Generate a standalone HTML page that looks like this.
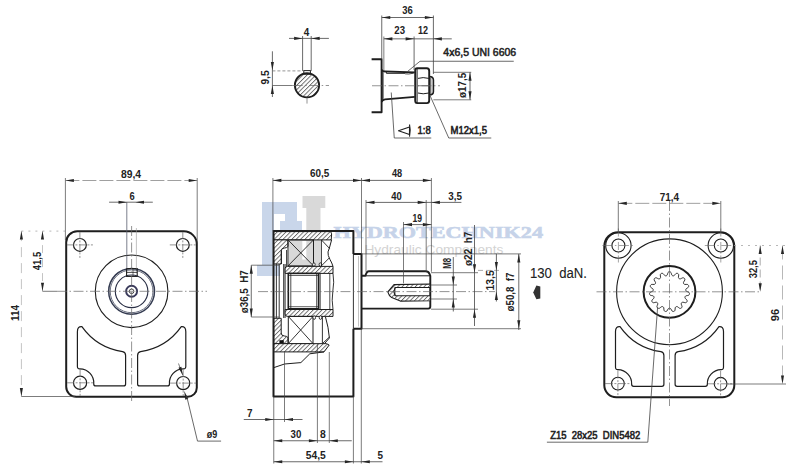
<!DOCTYPE html><html><head><meta charset="utf-8"><style>html,body{margin:0;padding:0;background:#fff;width:800px;height:474px;overflow:hidden}svg{display:block}</style></head><body><svg width="800" height="474" viewBox="0 0 800 474">
<defs>
<pattern id="h" patternUnits="userSpaceOnUse" width="3.1" height="3.1" patternTransform="rotate(45)"><rect width="3.1" height="3.1" fill="#fff"/><line x1="0.5" y1="0" x2="0.5" y2="3.1" stroke="#3a3a3a" stroke-width="0.7"/></pattern>
</defs>
<rect width="800" height="474" fill="#fff"/>
<path d="M262,202 H297 V221 H302 V232 H280 V221 H285 V214 H274 V265 H280 V276 H257 V265 H262 Z" fill="#c9d6ea"/>
<path d="M302.5,196 H325.3 V208 H320.5 V266 H288.8 V241 H302.3 V259.6 H306.3 V208 H302.5 Z" fill="#d9d9d9"/>
<text x="333.4" y="237.9" font-family="Liberation Serif, serif" font-weight="bold" font-size="16.8" textLength="209.6" lengthAdjust="spacingAndGlyphs" fill="#c6d3e9" stroke="#c6d3e9" stroke-width="0.6">HYDROTECHNIK24</text>
<text x="364.4" y="253.8" font-family="Liberation Sans, sans-serif" font-size="12.6" textLength="139" lengthAdjust="spacingAndGlyphs" fill="#d3d3d3">Hydraulic Components</text>
<circle cx="307" cy="85.3" r="12" fill="url(#h)"/>
<circle cx="307.00" cy="85.30" r="12.1" fill="none" stroke="#1e1e1e" stroke-width="1.9" />
<rect x="303.80" y="70.60" width="6.60" height="3.60" fill="none" stroke="#1e1e1e" stroke-width="1.0" />
<line x1="302.60" y1="36.00" x2="302.60" y2="71.00" stroke="#444" stroke-width="0.8" />
<line x1="311.20" y1="36.00" x2="311.20" y2="71.00" stroke="#444" stroke-width="0.8" />
<line x1="289.00" y1="38.40" x2="328.90" y2="38.40" stroke="#444" stroke-width="0.8" />
<polygon points="302.60,38.40 294.10,39.95 294.10,36.85" fill="#262626"/>
<polygon points="311.20,38.40 319.70,36.85 319.70,39.95" fill="#262626"/>
<text xml:space="preserve" style="white-space:pre" transform="translate(306.50,31.90)" x="0" y="3.94" font-family="Liberation Sans, sans-serif" font-size="11" font-weight="bold" text-anchor="middle" fill="#222" textLength="5.5" lengthAdjust="spacingAndGlyphs">4</text>
<line x1="272.40" y1="51.30" x2="272.40" y2="97.00" stroke="#444" stroke-width="0.8" />
<polygon points="272.40,70.60 270.85,62.10 273.95,62.10" fill="#262626"/>
<polygon points="272.40,85.40 273.95,93.90 270.85,93.90" fill="#262626"/>
<text xml:space="preserve" style="white-space:pre" transform="translate(264.80,77.50) rotate(-90)" x="0" y="3.94" font-family="Liberation Sans, sans-serif" font-size="11" font-weight="bold" text-anchor="middle" fill="#222" textLength="14.2" lengthAdjust="spacingAndGlyphs">9,5</text>
<line x1="272.40" y1="70.90" x2="302.00" y2="70.90" stroke="#666" stroke-width="0.7" stroke-dasharray="3 2"/>
<line x1="272.40" y1="85.50" x2="292.70" y2="85.50" stroke="#444" stroke-width="0.7" />
<line x1="292.70" y1="85.50" x2="329.00" y2="85.50" stroke="#666" stroke-width="0.7" stroke-dasharray="10 2.5 1.5 2.5"/>
<line x1="307.00" y1="97.50" x2="307.00" y2="103.60" stroke="#666" stroke-width="0.7" />
<polyline points="371.60,59.20 381.60,59.20 381.60,112.20 371.60,112.20" fill="none" stroke="#1e1e1e" stroke-width="1.9" stroke-linejoin="round" />
<line x1="382.90" y1="70.80" x2="382.90" y2="100.60" stroke="#1e1e1e" stroke-width="1.2" />
<path d="M381.6,69.5 Q382.5,71.5 385,71.5 L414.8,72.3" fill="none" stroke="#1e1e1e" stroke-width="1.8" stroke-linejoin="round" />
<path d="M381.6,102 Q382.5,99.8 385,99.4 L414.8,96.9" fill="none" stroke="#1e1e1e" stroke-width="1.8" stroke-linejoin="round" />
<path d="M386.5,71.2 L386.5,73.5 L405,73.5 M405,73.8 Q408,74.5 413.7,73.2" fill="none" stroke="#1e1e1e" stroke-width="0.8" stroke-linejoin="round" />
<path d="M415.2,70.5 Q415.2,68.3 417.2,68.3 L426.8,68.3 Q429.2,68.3 429.2,71 L429.2,100.5 Q429.2,103.1 426.8,103.1 L417.2,103.1 Q415.2,103.1 415.2,100.5 Z" fill="none" stroke="#1e1e1e" stroke-width="1.9" stroke-linejoin="round" />
<line x1="417.10" y1="68.60" x2="417.10" y2="103.00" stroke="#1e1e1e" stroke-width="1.0" />
<path d="M418,78.4 Q423,76.8 428.8,78.4 M418,93 Q423,94.6 428.8,93" fill="none" stroke="#1e1e1e" stroke-width="1.0" stroke-linejoin="round" />
<line x1="418.00" y1="85.75" x2="428.80" y2="85.75" stroke="#1e1e1e" stroke-width="0.6" />
<path d="M429.2,76.5 Q433.4,76.5 433.4,80 L433.4,91.5 Q433.4,95 429.2,95" fill="none" stroke="#1e1e1e" stroke-width="1.6" stroke-linejoin="round" />
<line x1="430.80" y1="77.50" x2="430.80" y2="94.00" stroke="#1e1e1e" stroke-width="0.8" />
<line x1="372.00" y1="85.75" x2="440.00" y2="85.75" stroke="#666" stroke-width="0.7" stroke-dasharray="10 2.5 1.5 2.5"/>
<line x1="381.75" y1="15.50" x2="381.75" y2="59.00" stroke="#444" stroke-width="0.8" />
<line x1="383.85" y1="36.50" x2="383.85" y2="71.00" stroke="#444" stroke-width="0.7" />
<line x1="433.40" y1="15.50" x2="433.40" y2="74.00" stroke="#444" stroke-width="0.8" />
<line x1="414.10" y1="36.50" x2="414.10" y2="70.00" stroke="#444" stroke-width="0.8" />
<line x1="381.75" y1="17.50" x2="433.40" y2="17.50" stroke="#444" stroke-width="0.8" />
<polygon points="381.75,17.50 390.25,15.95 390.25,19.05" fill="#262626"/>
<polygon points="433.40,17.50 424.90,19.05 424.90,15.95" fill="#262626"/>
<text xml:space="preserve" style="white-space:pre" transform="translate(407.50,10.30)" x="0" y="3.94" font-family="Liberation Sans, sans-serif" font-size="11" font-weight="bold" text-anchor="middle" fill="#222" textLength="10.5" lengthAdjust="spacingAndGlyphs">36</text>
<line x1="383.85" y1="38.85" x2="451.75" y2="38.85" stroke="#444" stroke-width="0.8" />
<polygon points="383.85,38.85 392.35,37.30 392.35,40.40" fill="#262626"/>
<polygon points="414.10,38.85 405.60,40.40 405.60,37.30" fill="#262626"/>
<polygon points="433.40,38.85 441.90,37.30 441.90,40.40" fill="#262626"/>
<text xml:space="preserve" style="white-space:pre" transform="translate(399.70,30.40)" x="0" y="3.94" font-family="Liberation Sans, sans-serif" font-size="11" font-weight="bold" text-anchor="middle" fill="#222" textLength="10.7" lengthAdjust="spacingAndGlyphs">23</text>
<text xml:space="preserve" style="white-space:pre" transform="translate(423.10,30.40)" x="0" y="3.94" font-family="Liberation Sans, sans-serif" font-size="11" font-weight="bold" text-anchor="middle" fill="#222" textLength="10" lengthAdjust="spacingAndGlyphs">12</text>
<polyline points="407.50,71.50 420.00,61.25 513.75,61.25" fill="none" stroke="#444" stroke-width="0.8" stroke-linejoin="round" />
<text xml:space="preserve" style="white-space:pre" transform="translate(479.75,52.00)" x="0" y="3.87" font-family="Liberation Sans, sans-serif" font-size="10.8" font-weight="normal" text-anchor="middle" fill="#222" stroke="#222" stroke-width="0.5" textLength="72.8" lengthAdjust="spacingAndGlyphs">4x6,5 UNI 6606</text>
<line x1="433.40" y1="72.30" x2="471.25" y2="72.30" stroke="#444" stroke-width="0.7" />
<line x1="433.40" y1="99.80" x2="471.25" y2="99.80" stroke="#444" stroke-width="0.7" />
<line x1="470.00" y1="72.30" x2="470.00" y2="99.80" stroke="#444" stroke-width="0.8" />
<polygon points="470.00,72.30 471.55,80.80 468.45,80.80" fill="#262626"/>
<polygon points="470.00,99.80 468.45,91.30 471.55,91.30" fill="#262626"/>
<text xml:space="preserve" style="white-space:pre" transform="translate(462.00,85.40) rotate(-90)" x="0" y="3.76" font-family="Liberation Sans, sans-serif" font-size="10.5" font-weight="bold" text-anchor="middle" fill="#222" textLength="25.3" lengthAdjust="spacingAndGlyphs">ø17,5</text>
<polyline points="391.25,92.50 394.25,138.00 431.25,138.00" fill="none" stroke="#444" stroke-width="0.8" stroke-linejoin="round" />
<polyline points="430.00,95.50 448.75,138.00 491.25,138.00" fill="none" stroke="#444" stroke-width="0.8" stroke-linejoin="round" />
<text xml:space="preserve" style="white-space:pre" transform="translate(424.10,130.00)" x="0" y="3.94" font-family="Liberation Sans, sans-serif" font-size="11" font-weight="normal" text-anchor="middle" fill="#222" stroke="#222" stroke-width="0.6" textLength="13.2" lengthAdjust="spacingAndGlyphs">1:8</text>
<text xml:space="preserve" style="white-space:pre" transform="translate(468.75,130.00)" x="0" y="3.94" font-family="Liberation Sans, sans-serif" font-size="11" font-weight="normal" text-anchor="middle" fill="#222" stroke="#222" stroke-width="0.6" textLength="36.5" lengthAdjust="spacingAndGlyphs">M12x1,5</text>
<polygon points="409.50,127.00 398.50,130.80 409.50,134.60" fill="none" stroke="#1e1e1e" stroke-width="1.1" stroke-linejoin="round" />
<path d="M409.5,124.5 Q411,130.6 409.5,136.6" fill="none" stroke="#1e1e1e" stroke-width="1.1" stroke-linejoin="round" />
<path d="M77.2,231.3 H183.8 A13,13 0 0 1 196.8,244.3 V387.8 A9,9 0 0 1 187.8,396.8 H76.2 A10,10 0 0 1 66.2,386.8 V242.3 A11,11 0 0 1 77.2,231.3 Z" fill="none" stroke="#1e1e1e" stroke-width="2.0" stroke-linejoin="round" />
<circle cx="79.90" cy="244.90" r="6.4" fill="none" stroke="#1e1e1e" stroke-width="1.2" />
<line x1="66.90" y1="244.90" x2="92.90" y2="244.90" stroke="#777" stroke-width="0.8" stroke-dasharray="7 1.5 2 1.5"/>
<line x1="79.90" y1="231.90" x2="79.90" y2="257.90" stroke="#777" stroke-width="0.8" stroke-dasharray="7 1.5 2 1.5"/>
<circle cx="182.80" cy="244.90" r="6.4" fill="none" stroke="#1e1e1e" stroke-width="1.2" />
<line x1="169.80" y1="244.90" x2="195.80" y2="244.90" stroke="#777" stroke-width="0.8" stroke-dasharray="7 1.5 2 1.5"/>
<line x1="182.80" y1="231.90" x2="182.80" y2="257.90" stroke="#777" stroke-width="0.8" stroke-dasharray="7 1.5 2 1.5"/>
<circle cx="80.10" cy="382.80" r="6.6" fill="none" stroke="#1e1e1e" stroke-width="1.2" />
<line x1="67.10" y1="382.80" x2="93.10" y2="382.80" stroke="#777" stroke-width="0.8" stroke-dasharray="7 1.5 2 1.5"/>
<line x1="80.10" y1="369.80" x2="80.10" y2="395.80" stroke="#777" stroke-width="0.8" stroke-dasharray="7 1.5 2 1.5"/>
<circle cx="183.20" cy="383.10" r="6.6" fill="none" stroke="#1e1e1e" stroke-width="1.2" />
<line x1="170.20" y1="383.10" x2="196.20" y2="383.10" stroke="#777" stroke-width="0.8" stroke-dasharray="7 1.5 2 1.5"/>
<line x1="183.20" y1="370.10" x2="183.20" y2="396.10" stroke="#777" stroke-width="0.8" stroke-dasharray="7 1.5 2 1.5"/>
<circle cx="131.60" cy="291.30" r="36.3" fill="none" stroke="#1e1e1e" stroke-width="1.1" />
<circle cx="131.60" cy="291.30" r="22.9" fill="none" stroke="#333a50" stroke-width="1.5" />
<circle cx="131.60" cy="291.30" r="21.4" fill="none" stroke="#444a60" stroke-width="0.8" />
<circle cx="131.60" cy="291.30" r="16.3" fill="none" stroke="#2a2f45" stroke-width="1.1" />
<circle cx="131.60" cy="291.30" r="5.5" fill="none" stroke="#3a3a5a" stroke-width="1.9" />
<circle cx="131.60" cy="291.30" r="2.3" fill="none" stroke="#1e1e1e" stroke-width="0.8" />
<rect x="126.60" y="268.60" width="10.60" height="7.80" fill="none" stroke="#1e1e1e" stroke-width="1.1" />
<line x1="126.60" y1="272.40" x2="137.20" y2="272.40" stroke="#1e1e1e" stroke-width="0.8" />
<line x1="133.00" y1="268.60" x2="133.00" y2="276.40" stroke="#1e1e1e" stroke-width="0.6" />
<line x1="126.80" y1="202.20" x2="126.80" y2="268.60" stroke="#5a6070" stroke-width="0.8" />
<line x1="136.40" y1="228.00" x2="136.40" y2="268.60" stroke="#999" stroke-width="0.6" />
<path d="M77.40,331.67 Q77.40,326.17 81.90,326.67 A61,61 0 0 0 122.60,351.63 Q125.60,352.20 125.60,355.50 V383.9 Q125.60,385.90 123.60,385.90 H95.75 Q93.75,385.90 93.75,383.90 A14,14 0 0 0 79.90,368.86 Q77.40,369.06 77.40,366.56 Z" fill="none" stroke="#1e1e1e" stroke-width="1.2" stroke-linejoin="round" />
<path d="M185.80,331.67 Q185.80,326.17 181.30,326.67 A61,61 0 0 1 140.60,351.63 Q137.60,352.20 137.60,355.50 V383.9 Q137.60,385.90 139.60,385.90 H167.45 Q169.45,385.90 169.45,383.90 A14,14 0 0 1 183.30,368.86 Q185.80,369.06 185.80,366.56 Z" fill="none" stroke="#1e1e1e" stroke-width="1.2" stroke-linejoin="round" />
<line x1="131.60" y1="226.00" x2="131.60" y2="401.00" stroke="#666" stroke-width="0.7" stroke-dasharray="10 2.5 1.5 2.5"/>
<line x1="57.00" y1="291.30" x2="207.00" y2="291.30" stroke="#666" stroke-width="0.7" stroke-dasharray="10 2.5 1.5 2.5"/>
<line x1="42.50" y1="291.30" x2="57.00" y2="291.30" stroke="#444" stroke-width="0.7" />
<line x1="65.40" y1="178.00" x2="65.40" y2="240.00" stroke="#444" stroke-width="0.7" />
<line x1="197.20" y1="178.00" x2="197.20" y2="244.00" stroke="#444" stroke-width="0.7" />
<line x1="65.40" y1="180.50" x2="197.20" y2="180.50" stroke="#777" stroke-width="0.7" stroke-dasharray="14 3"/>
<polygon points="65.40,180.50 73.90,178.95 73.90,182.05" fill="#262626"/>
<polygon points="197.20,180.50 188.70,182.05 188.70,178.95" fill="#262626"/>
<text xml:space="preserve" style="white-space:pre" transform="translate(131.00,174.00)" x="0" y="3.94" font-family="Liberation Sans, sans-serif" font-size="11" font-weight="bold" text-anchor="middle" fill="#222" textLength="20.1" lengthAdjust="spacingAndGlyphs">89,4</text>
<line x1="109.10" y1="202.20" x2="152.80" y2="202.20" stroke="#444" stroke-width="0.8" />
<polygon points="127.00,202.20 118.50,203.75 118.50,200.65" fill="#262626"/>
<polygon points="135.50,202.20 144.00,200.65 144.00,203.75" fill="#262626"/>
<text xml:space="preserve" style="white-space:pre" transform="translate(132.00,195.60)" x="0" y="3.94" font-family="Liberation Sans, sans-serif" font-size="11" font-weight="bold" text-anchor="middle" fill="#222" textLength="5.2" lengthAdjust="spacingAndGlyphs">6</text>
<line x1="21.40" y1="231.10" x2="66.00" y2="231.10" stroke="#999" stroke-width="0.7" stroke-dasharray="2 5"/>
<line x1="42.50" y1="231.10" x2="42.50" y2="291.30" stroke="#aaa" stroke-width="0.7" stroke-dasharray="8 6"/>
<polygon points="42.50,231.10 44.05,239.60 40.95,239.60" fill="#262626"/>
<polygon points="42.50,291.30 40.95,282.80 44.05,282.80" fill="#262626"/>
<text xml:space="preserve" style="white-space:pre" transform="translate(37.00,261.00) rotate(-90)" x="0" y="3.94" font-family="Liberation Sans, sans-serif" font-size="11" font-weight="bold" text-anchor="middle" fill="#222" textLength="18.3" lengthAdjust="spacingAndGlyphs">41,5</text>
<line x1="21.40" y1="231.10" x2="21.40" y2="396.50" stroke="#aaa" stroke-width="0.7" stroke-dasharray="10 6"/>
<polygon points="21.40,231.10 22.95,239.60 19.85,239.60" fill="#262626"/>
<polygon points="21.40,396.50 19.85,388.00 22.95,388.00" fill="#262626"/>
<text xml:space="preserve" style="white-space:pre" transform="translate(14.60,313.00) rotate(-90)" x="0" y="3.94" font-family="Liberation Sans, sans-serif" font-size="11" font-weight="bold" text-anchor="middle" fill="#222" textLength="15.8" lengthAdjust="spacingAndGlyphs">114</text>
<line x1="21.40" y1="396.50" x2="75.00" y2="396.50" stroke="#444" stroke-width="0.7" />
<line x1="178.50" y1="363.50" x2="182.80" y2="375.30" stroke="#444" stroke-width="0.7" />
<polygon points="182.80,375.30 178.45,367.83 181.37,366.78" fill="#262626"/>
<polygon points="184.20,391.10 188.24,398.74 185.28,399.67" fill="#262626"/>
<polyline points="186.50,395.50 197.50,441.10 221.10,441.10" fill="none" stroke="#444" stroke-width="0.8" stroke-linejoin="round" />
<text xml:space="preserve" style="white-space:pre" transform="translate(212.00,433.80)" x="0" y="3.94" font-family="Liberation Sans, sans-serif" font-size="11" font-weight="bold" text-anchor="middle" fill="#222" textLength="10.5" lengthAdjust="spacingAndGlyphs">ø9</text>
<path d="M273.6,231.6 H330.5 Q331.8,233 331.6,235 L331.2,239.9 H273.6 Z" fill="url(#h)" stroke="#1e1e1e" stroke-width="1.0" stroke-linejoin="round"/>
<path d="M273.6,239.9 H286 Q288,239.9 288,242 V246.5 Q286.6,248 284.5,248 Q281.2,248 281.2,251 V264 H273.6 Z" fill="url(#h)" stroke="#1e1e1e" stroke-width="1.0" stroke-linejoin="round"/>
<line x1="281.50" y1="251.00" x2="281.50" y2="264.00" stroke="#1e1e1e" stroke-width="0.9" />
<line x1="286.60" y1="250.00" x2="286.60" y2="266.40" stroke="#1e1e1e" stroke-width="0.9" />
<rect x="288.00" y="239.90" width="25.50" height="26.00" fill="none" stroke="#1e1e1e" stroke-width="1.0" />
<line x1="288.00" y1="239.90" x2="313.50" y2="265.90" stroke="#1e1e1e" stroke-width="0.9" />
<line x1="313.50" y1="239.90" x2="288.00" y2="265.90" stroke="#1e1e1e" stroke-width="0.9" />
<ellipse cx="313.9" cy="264.6" rx="1.3" ry="1.8" fill="#fff" stroke="#1e1e1e" stroke-width="0.9"/>
<ellipse cx="320.4" cy="264.6" rx="1.3" ry="1.8" fill="#fff" stroke="#1e1e1e" stroke-width="0.9"/>
<line x1="321.40" y1="239.90" x2="321.40" y2="266.00" stroke="#1e1e1e" stroke-width="0.9" />
<line x1="321.40" y1="239.90" x2="329.60" y2="248.50" stroke="#1e1e1e" stroke-width="0.9" />
<line x1="321.40" y1="265.90" x2="329.20" y2="258.00" stroke="#1e1e1e" stroke-width="0.9" />
<path d="M331.6,239.9 L329.4,248 Q327.2,252 328.3,255.5 L330,259.5 Q332,263 333,266.4" fill="none" stroke="#1e1e1e" stroke-width="1.0" stroke-linejoin="round" />
<line x1="276.40" y1="264.00" x2="276.40" y2="318.00" stroke="#1e1e1e" stroke-width="0.9" />
<line x1="279.20" y1="264.00" x2="279.20" y2="318.00" stroke="#1e1e1e" stroke-width="0.9" />
<line x1="283.75" y1="264.00" x2="283.75" y2="318.00" stroke="#1e1e1e" stroke-width="1.0" />
<line x1="285.10" y1="264.00" x2="285.10" y2="318.00" stroke="#1e1e1e" stroke-width="0.9" />
<path d="M287.5,266.4 H333 V273.4 H285.1 V268.8 Q285.1,266.4 287.5,266.4 Z" fill="url(#h)" stroke="#1e1e1e" stroke-width="1.0" stroke-linejoin="round"/>
<rect x="288.30" y="273.40" width="30.30" height="35.40" fill="none" stroke="#1e1e1e" stroke-width="1.6" />
<line x1="290.80" y1="273.40" x2="290.80" y2="308.80" stroke="#1e1e1e" stroke-width="0.8" />
<line x1="316.70" y1="273.40" x2="316.70" y2="308.80" stroke="#1e1e1e" stroke-width="0.8" />
<line x1="288.30" y1="275.50" x2="318.60" y2="275.50" stroke="#1e1e1e" stroke-width="0.7" />
<line x1="288.30" y1="306.70" x2="318.60" y2="306.70" stroke="#1e1e1e" stroke-width="0.7" />
<line x1="320.20" y1="273.40" x2="320.20" y2="309.50" stroke="#1e1e1e" stroke-width="0.8" />
<line x1="329.80" y1="273.40" x2="329.80" y2="309.50" stroke="#1e1e1e" stroke-width="0.8" />
<path d="M333,273.4 Q334.5,282 332.8,291.5 Q331.5,300 333,309.5" fill="none" stroke="#1e1e1e" stroke-width="0.9" stroke-linejoin="round" />
<path d="M285.1,309.5 H333 V316.4 H287.5 Q285.1,316.4 285.1,314 Z" fill="url(#h)" stroke="#1e1e1e" stroke-width="1.0" stroke-linejoin="round"/>
<path d="M273.6,318.3 H281.2 V333 Q281.2,336 284.5,336 Q286.6,336 288,337.5 V343.6 H273.6 Z" fill="url(#h)" stroke="#1e1e1e" stroke-width="1.0" stroke-linejoin="round"/>
<rect x="279.4" y="340.2" width="4.4" height="3.2" fill="#111"/>
<rect x="288.30" y="316.40" width="24.70" height="27.20" fill="none" stroke="#1e1e1e" stroke-width="1.0" />
<line x1="288.30" y1="316.40" x2="313.00" y2="343.60" stroke="#1e1e1e" stroke-width="0.9" />
<line x1="313.00" y1="316.40" x2="288.30" y2="343.60" stroke="#1e1e1e" stroke-width="0.9" />
<ellipse cx="314.2" cy="317.6" rx="1.3" ry="1.8" fill="#fff" stroke="#1e1e1e" stroke-width="0.9"/>
<ellipse cx="320.5" cy="317.6" rx="1.3" ry="1.8" fill="#fff" stroke="#1e1e1e" stroke-width="0.9"/>
<line x1="322.40" y1="316.40" x2="322.40" y2="343.60" stroke="#1e1e1e" stroke-width="0.9" />
<line x1="322.40" y1="343.60" x2="329.40" y2="337.00" stroke="#1e1e1e" stroke-width="0.9" />
<path d="M325.5,317 Q328.5,327 329.4,338 L324.5,343.6" fill="none" stroke="#1e1e1e" stroke-width="1.0" stroke-linejoin="round" />
<path d="M273.6,343.65 H326.5 L329.2,345 L324,351.9 H273.6 Z" fill="url(#h)" stroke="#1e1e1e" stroke-width="1.0" stroke-linejoin="round"/>
<path d="M273.6,367.7 L284.5,364 L300.9,362.6 L309.8,353.8 L324,351.9" fill="none" stroke="#1e1e1e" stroke-width="1.0" stroke-linejoin="round" />
<path d="M353.4,253.9 V231.1 H273.5 V396.4 H353.4 V328.7 M353.4,253.9 H361.5 V328.7 H353.4" fill="none" stroke="#1e1e1e" stroke-width="2.0" stroke-linejoin="round" />
<line x1="353.40" y1="253.90" x2="353.40" y2="328.70" stroke="#1e1e1e" stroke-width="0.9" />
<line x1="358.50" y1="256.00" x2="358.50" y2="326.50" stroke="#999" stroke-width="0.6" />
<path d="M361.5,275.8 H365.5 Q366.5,271.3 369,271.3 H425.5 Q428.5,271.3 429.5,273.8 L430.3,275.8 V306.6 Q430.3,308.6 428.3,308.6 H361.5" fill="none" stroke="#1e1e1e" stroke-width="1.9" stroke-linejoin="round" />
<line x1="366.00" y1="275.80" x2="430.30" y2="275.80" stroke="#1e1e1e" stroke-width="1.0" />
<path d="M430.3,284 L394,284.6 L387.8,291.8 Q389,296 391.7,297.6 L400.3,301.1 L430.3,300.8 Z M430.3,287.5 H395.2 L393.8,291.6 L395.2,295.7 H430.3 Z" fill="url(#h)" fill-rule="evenodd" stroke="#1e1e1e" stroke-width="1.1" stroke-linejoin="round"/>
<line x1="394.90" y1="287.50" x2="394.90" y2="295.70" stroke="#1e1e1e" stroke-width="0.9" />
<line x1="258.00" y1="291.60" x2="495.00" y2="291.60" stroke="#666" stroke-width="0.7" stroke-dasharray="10 2.5 1.5 2.5"/>
<line x1="272.90" y1="178.00" x2="272.90" y2="231.00" stroke="#444" stroke-width="0.7" />
<line x1="361.50" y1="178.00" x2="361.50" y2="254.00" stroke="#444" stroke-width="0.7" />
<line x1="366.00" y1="200.00" x2="366.00" y2="271.80" stroke="#444" stroke-width="0.7" />
<line x1="403.50" y1="222.00" x2="403.50" y2="283.30" stroke="#444" stroke-width="0.7" />
<line x1="426.20" y1="200.00" x2="426.20" y2="271.80" stroke="#444" stroke-width="0.7" />
<line x1="431.40" y1="178.00" x2="431.40" y2="271.80" stroke="#444" stroke-width="0.7" />
<line x1="273.75" y1="396.40" x2="273.75" y2="463.50" stroke="#444" stroke-width="0.7" />
<line x1="284.50" y1="352.00" x2="284.50" y2="422.00" stroke="#444" stroke-width="0.7" />
<line x1="317.40" y1="343.60" x2="317.40" y2="443.00" stroke="#444" stroke-width="0.7" />
<line x1="329.30" y1="352.00" x2="329.30" y2="443.00" stroke="#444" stroke-width="0.7" />
<line x1="353.40" y1="396.40" x2="353.40" y2="463.50" stroke="#444" stroke-width="0.7" />
<line x1="361.30" y1="328.70" x2="361.30" y2="463.50" stroke="#444" stroke-width="0.7" />
<line x1="361.50" y1="253.90" x2="521.00" y2="253.90" stroke="#444" stroke-width="0.7" />
<line x1="361.50" y1="328.70" x2="521.00" y2="328.70" stroke="#444" stroke-width="0.7" />
<line x1="251.25" y1="265.20" x2="279.00" y2="265.20" stroke="#444" stroke-width="0.7" />
<line x1="251.25" y1="317.00" x2="279.00" y2="317.00" stroke="#444" stroke-width="0.7" />
<line x1="431.00" y1="285.00" x2="457.00" y2="285.00" stroke="#444" stroke-width="0.7" />
<line x1="431.00" y1="299.00" x2="457.00" y2="299.00" stroke="#444" stroke-width="0.7" />
<line x1="431.00" y1="272.70" x2="478.00" y2="272.70" stroke="#444" stroke-width="0.7" />
<line x1="431.00" y1="309.20" x2="478.00" y2="309.20" stroke="#444" stroke-width="0.7" />
<line x1="478.00" y1="270.40" x2="499.00" y2="270.40" stroke="#888" stroke-width="0.7" stroke-dasharray="5 3"/>
<line x1="272.90" y1="180.40" x2="431.40" y2="180.40" stroke="#444" stroke-width="0.8" />
<polygon points="272.90,180.40 281.40,178.85 281.40,181.95" fill="#262626"/>
<polygon points="361.50,180.40 353.00,181.95 353.00,178.85" fill="#262626"/>
<polygon points="361.50,180.40 370.00,178.85 370.00,181.95" fill="#262626"/>
<polygon points="431.40,180.40 422.90,181.95 422.90,178.85" fill="#262626"/>
<text xml:space="preserve" style="white-space:pre" transform="translate(319.70,173.30)" x="0" y="3.94" font-family="Liberation Sans, sans-serif" font-size="11" font-weight="bold" text-anchor="middle" fill="#222" textLength="19.3" lengthAdjust="spacingAndGlyphs">60,5</text>
<text xml:space="preserve" style="white-space:pre" transform="translate(397.10,173.30)" x="0" y="3.94" font-family="Liberation Sans, sans-serif" font-size="11" font-weight="bold" text-anchor="middle" fill="#222" textLength="10.2" lengthAdjust="spacingAndGlyphs">48</text>
<line x1="366.00" y1="202.40" x2="461.40" y2="202.40" stroke="#444" stroke-width="0.8" />
<polygon points="366.00,202.40 374.50,200.85 374.50,203.95" fill="#262626"/>
<polygon points="426.20,202.40 417.70,203.95 417.70,200.85" fill="#262626"/>
<polygon points="431.40,202.40 439.90,200.85 439.90,203.95" fill="#262626"/>
<text xml:space="preserve" style="white-space:pre" transform="translate(396.50,195.70)" x="0" y="3.94" font-family="Liberation Sans, sans-serif" font-size="11" font-weight="bold" text-anchor="middle" fill="#222" textLength="10.5" lengthAdjust="spacingAndGlyphs">40</text>
<text xml:space="preserve" style="white-space:pre" transform="translate(455.20,196.20)" x="0" y="3.94" font-family="Liberation Sans, sans-serif" font-size="11" font-weight="bold" text-anchor="middle" fill="#222" textLength="13.7" lengthAdjust="spacingAndGlyphs">3,5</text>
<line x1="403.50" y1="224.60" x2="431.40" y2="224.60" stroke="#444" stroke-width="0.8" />
<polygon points="403.50,224.60 412.00,223.05 412.00,226.15" fill="#262626"/>
<polygon points="431.40,224.60 422.90,226.15 422.90,223.05" fill="#262626"/>
<text xml:space="preserve" style="white-space:pre" transform="translate(417.25,217.80)" x="0" y="3.94" font-family="Liberation Sans, sans-serif" font-size="11" font-weight="bold" text-anchor="middle" fill="#222" textLength="9.5" lengthAdjust="spacingAndGlyphs">19</text>
<line x1="251.25" y1="265.20" x2="251.25" y2="317.00" stroke="#444" stroke-width="0.8" />
<polygon points="251.25,265.20 252.80,273.70 249.70,273.70" fill="#262626"/>
<polygon points="251.25,317.00 249.70,308.50 252.80,308.50" fill="#262626"/>
<text xml:space="preserve" style="white-space:pre" transform="translate(243.90,291.80) rotate(-90)" x="0" y="3.76" font-family="Liberation Sans, sans-serif" font-size="10.5" font-weight="bold" text-anchor="middle" fill="#222" textLength="43" lengthAdjust="spacingAndGlyphs">ø36,5  H7</text>
<line x1="453.30" y1="257.00" x2="453.30" y2="311.50" stroke="#444" stroke-width="0.8" />
<polygon points="453.30,285.00 451.75,276.50 454.85,276.50" fill="#262626"/>
<polygon points="453.30,299.00 454.85,307.50 451.75,307.50" fill="#262626"/>
<text xml:space="preserve" style="white-space:pre" transform="translate(446.70,263.30) rotate(-90)" x="0" y="4.12" font-family="Liberation Sans, sans-serif" font-size="11.5" font-weight="bold" text-anchor="middle" fill="#222" textLength="10.8" lengthAdjust="spacingAndGlyphs">M8</text>
<line x1="474.50" y1="225.00" x2="474.50" y2="326.00" stroke="#444" stroke-width="0.8" />
<polygon points="474.50,272.70 472.95,264.20 476.05,264.20" fill="#262626"/>
<polygon points="474.50,309.20 476.05,317.70 472.95,317.70" fill="#262626"/>
<text xml:space="preserve" style="white-space:pre" transform="translate(468.30,248.80) rotate(-90)" x="0" y="3.94" font-family="Liberation Sans, sans-serif" font-size="11" font-weight="bold" text-anchor="middle" fill="#222" textLength="34.4" lengthAdjust="spacingAndGlyphs">ø22  h7</text>
<line x1="496.40" y1="253.80" x2="496.40" y2="301.50" stroke="#444" stroke-width="0.8" />
<polygon points="496.40,270.40 494.85,261.90 497.95,261.90" fill="#262626"/>
<polygon points="496.40,291.60 497.95,300.10 494.85,300.10" fill="#262626"/>
<text xml:space="preserve" style="white-space:pre" transform="translate(490.40,280.40) rotate(-90)" x="0" y="3.94" font-family="Liberation Sans, sans-serif" font-size="11" font-weight="bold" text-anchor="middle" fill="#222" textLength="20" lengthAdjust="spacingAndGlyphs">13,5</text>
<line x1="518.80" y1="253.90" x2="518.80" y2="330.00" stroke="#444" stroke-width="0.8" />
<polygon points="518.80,253.90 520.35,262.40 517.25,262.40" fill="#262626"/>
<polygon points="518.80,328.70 517.25,320.20 520.35,320.20" fill="#262626"/>
<text xml:space="preserve" style="white-space:pre" transform="translate(509.80,292.00) rotate(-90)" x="0" y="3.94" font-family="Liberation Sans, sans-serif" font-size="11" font-weight="bold" text-anchor="middle" fill="#222" textLength="38.8" lengthAdjust="spacingAndGlyphs">ø50,8  f7</text>
<text xml:space="preserve" style="white-space:pre" transform="translate(558.50,272.30)" x="0" y="5.48" font-family="Liberation Sans, sans-serif" font-size="15.3" font-weight="normal" text-anchor="middle" fill="#222" stroke="#222" stroke-width="0.1" textLength="57" lengthAdjust="spacingAndGlyphs">130  daN.</text>
<path d="M533.2,292.5 L536.4,285.6 L540.3,286.5 L540.3,298.5 L536.4,299.3 Z" fill="#333"/>
<line x1="243.75" y1="419.50" x2="302.50" y2="419.50" stroke="#444" stroke-width="0.8" />
<polygon points="273.75,419.50 265.25,421.05 265.25,417.95" fill="#262626"/>
<polygon points="284.50,419.50 293.00,417.95 293.00,421.05" fill="#262626"/>
<text xml:space="preserve" style="white-space:pre" transform="translate(249.75,412.90)" x="0" y="3.94" font-family="Liberation Sans, sans-serif" font-size="11" font-weight="bold" text-anchor="middle" fill="#222" textLength="5.5" lengthAdjust="spacingAndGlyphs">7</text>
<line x1="273.75" y1="440.75" x2="351.75" y2="440.75" stroke="#444" stroke-width="0.8" />
<polygon points="273.75,440.75 282.25,439.20 282.25,442.30" fill="#262626"/>
<polygon points="317.40,440.75 308.90,442.30 308.90,439.20" fill="#262626"/>
<polygon points="329.30,440.75 337.80,439.20 337.80,442.30" fill="#262626"/>
<text xml:space="preserve" style="white-space:pre" transform="translate(295.90,434.00)" x="0" y="3.94" font-family="Liberation Sans, sans-serif" font-size="11" font-weight="bold" text-anchor="middle" fill="#222" textLength="10.75" lengthAdjust="spacingAndGlyphs">30</text>
<text xml:space="preserve" style="white-space:pre" transform="translate(322.90,434.00)" x="0" y="3.94" font-family="Liberation Sans, sans-serif" font-size="11" font-weight="bold" text-anchor="middle" fill="#222" textLength="5.75" lengthAdjust="spacingAndGlyphs">8</text>
<line x1="273.75" y1="461.75" x2="382.50" y2="461.75" stroke="#444" stroke-width="0.8" />
<polygon points="273.75,461.75 282.25,460.20 282.25,463.30" fill="#262626"/>
<polygon points="353.40,461.75 344.90,463.30 344.90,460.20" fill="#262626"/>
<polygon points="361.30,461.75 369.80,460.20 369.80,463.30" fill="#262626"/>
<text xml:space="preserve" style="white-space:pre" transform="translate(315.75,454.75)" x="0" y="3.94" font-family="Liberation Sans, sans-serif" font-size="11" font-weight="bold" text-anchor="middle" fill="#222" textLength="20" lengthAdjust="spacingAndGlyphs">54,5</text>
<text xml:space="preserve" style="white-space:pre" transform="translate(380.25,454.75)" x="0" y="3.94" font-family="Liberation Sans, sans-serif" font-size="11" font-weight="bold" text-anchor="middle" fill="#222" textLength="5.5" lengthAdjust="spacingAndGlyphs">5</text>
<path d="M618.3,232.2 H720.3 A14,14 0 0 1 734.3,246.2 V385.3 A12,12 0 0 1 722.3,397.3 H616.3 A12,12 0 0 1 604.3,385.3 V246.2 A14,14 0 0 1 618.3,232.2 Z" fill="none" stroke="#1e1e1e" stroke-width="2.0" stroke-linejoin="round" />
<circle cx="618.40" cy="245.50" r="12.7" fill="none" stroke="#1e1e1e" stroke-width="1.1" />
<circle cx="618.40" cy="245.50" r="6.5" fill="none" stroke="#1e1e1e" stroke-width="1.1" />
<line x1="602.40" y1="245.50" x2="634.40" y2="245.50" stroke="#666" stroke-width="0.6" stroke-dasharray="10 2.5 1.5 2.5"/>
<line x1="618.40" y1="228.50" x2="618.40" y2="262.50" stroke="#666" stroke-width="0.6" stroke-dasharray="8 2 1.5 2"/>
<circle cx="720.80" cy="245.50" r="12.7" fill="none" stroke="#1e1e1e" stroke-width="1.1" />
<circle cx="720.80" cy="245.50" r="6.5" fill="none" stroke="#1e1e1e" stroke-width="1.1" />
<line x1="704.80" y1="245.50" x2="736.80" y2="245.50" stroke="#666" stroke-width="0.6" stroke-dasharray="10 2.5 1.5 2.5"/>
<line x1="720.80" y1="228.50" x2="720.80" y2="262.50" stroke="#666" stroke-width="0.6" stroke-dasharray="8 2 1.5 2"/>
<circle cx="617.90" cy="383.60" r="6.4" fill="none" stroke="#1e1e1e" stroke-width="1.1" />
<line x1="604.90" y1="383.60" x2="630.90" y2="383.60" stroke="#666" stroke-width="0.7" stroke-dasharray="8 1.5 2 1.5"/>
<line x1="617.90" y1="370.60" x2="617.90" y2="396.60" stroke="#666" stroke-width="0.7" stroke-dasharray="8 1.5 2 1.5"/>
<circle cx="720.60" cy="383.80" r="6.4" fill="none" stroke="#1e1e1e" stroke-width="1.1" />
<line x1="707.60" y1="383.80" x2="733.60" y2="383.80" stroke="#666" stroke-width="0.7" stroke-dasharray="8 1.5 2 1.5"/>
<line x1="720.60" y1="370.80" x2="720.60" y2="396.80" stroke="#666" stroke-width="0.7" stroke-dasharray="8 1.5 2 1.5"/>
<circle cx="669.50" cy="291.80" r="52.9" fill="none" stroke="#1e1e1e" stroke-width="1.1" />
<circle cx="669.50" cy="291.80" r="25.9" fill="none" stroke="#1e1e1e" stroke-width="2.0" />
<path d="M669.50,271.70 L670.02,271.79 L670.53,272.06 L671.02,272.54 L671.40,273.70 L671.73,274.87 L672.10,275.37 L672.49,275.69 L672.89,275.86 L673.32,275.87 L673.80,275.74 L674.35,275.42 L675.12,274.49 L675.95,273.59 L676.59,273.34 L677.16,273.30 L677.68,273.44 L678.12,273.73 L678.48,274.18 L678.72,274.82 L678.60,276.04 L678.42,277.24 L678.56,277.85 L678.78,278.30 L679.08,278.61 L679.47,278.80 L679.97,278.88 L680.59,278.81 L681.68,278.27 L682.80,277.79 L683.48,277.82 L684.02,278.02 L684.44,278.35 L684.72,278.80 L684.86,279.36 L684.83,280.04 L684.22,281.10 L683.58,282.13 L683.45,282.74 L683.47,283.24 L683.62,283.65 L683.90,283.98 L684.32,284.25 L684.92,284.45 L686.13,284.40 L687.35,284.41 L687.96,284.71 L688.37,285.12 L688.62,285.59 L688.69,286.11 L688.60,286.68 L688.29,287.29 L687.30,288.02 L686.29,288.69 L685.93,289.20 L685.74,289.66 L685.71,290.10 L685.83,290.51 L686.11,290.93 L686.57,291.35 L687.70,291.80 L688.81,292.31 L689.24,292.83 L689.46,293.37 L689.49,293.90 L689.35,294.41 L689.03,294.89 L688.50,295.32 L687.30,295.58 L686.11,295.79 L685.56,296.10 L685.21,296.45 L685.00,296.84 L684.94,297.27 L685.03,297.76 L685.28,298.34 L686.13,299.20 L686.94,300.12 L687.12,300.78 L687.09,301.35 L686.91,301.85 L686.57,302.26 L686.08,302.57 L685.42,302.74 L684.22,302.50 L683.05,302.20 L682.42,302.27 L681.96,302.44 L681.61,302.71 L681.38,303.08 L681.26,303.56 L681.26,304.19 L681.68,305.33 L682.05,306.49 L681.94,307.16 L681.69,307.68 L681.31,308.06 L680.84,308.30 L680.27,308.38 L679.59,308.27 L678.60,307.56 L677.65,306.81 L677.05,306.62 L676.55,306.59 L676.13,306.69 L675.77,306.93 L675.46,307.33 L675.20,307.90 L675.12,309.11 L674.99,310.32 L674.62,310.90 L674.17,311.27 L673.68,311.46 L673.15,311.48 L672.59,311.33 L672.02,310.95 L671.40,309.90 L670.84,308.83 L670.37,308.41 L669.93,308.18 L669.50,308.10 L669.07,308.18 L668.63,308.41 L668.16,308.83 L667.60,309.90 L666.98,310.95 L666.41,311.33 L665.85,311.48 L665.32,311.46 L664.83,311.27 L664.38,310.90 L664.01,310.32 L663.88,309.11 L663.80,307.90 L663.54,307.33 L663.23,306.93 L662.87,306.69 L662.45,306.59 L661.95,306.62 L661.35,306.81 L660.40,307.56 L659.41,308.27 L658.73,308.38 L658.16,308.30 L657.69,308.06 L657.31,307.68 L657.06,307.16 L656.95,306.49 L657.32,305.33 L657.74,304.19 L657.74,303.56 L657.62,303.08 L657.39,302.71 L657.04,302.44 L656.58,302.27 L655.95,302.20 L654.78,302.50 L653.58,302.74 L652.92,302.57 L652.43,302.26 L652.09,301.85 L651.91,301.35 L651.88,300.78 L652.06,300.12 L652.87,299.20 L653.72,298.34 L653.97,297.76 L654.06,297.27 L654.00,296.84 L653.79,296.45 L653.44,296.10 L652.89,295.79 L651.70,295.58 L650.50,295.32 L649.97,294.89 L649.65,294.41 L649.51,293.90 L649.54,293.37 L649.76,292.83 L650.19,292.31 L651.30,291.80 L652.43,291.35 L652.89,290.93 L653.17,290.51 L653.29,290.10 L653.26,289.66 L653.07,289.20 L652.71,288.69 L651.70,288.02 L650.71,287.29 L650.40,286.68 L650.31,286.11 L650.38,285.59 L650.63,285.12 L651.04,284.71 L651.65,284.41 L652.87,284.40 L654.08,284.45 L654.68,284.25 L655.10,283.98 L655.38,283.65 L655.53,283.24 L655.55,282.74 L655.42,282.13 L654.78,281.10 L654.17,280.04 L654.14,279.36 L654.28,278.80 L654.56,278.35 L654.98,278.02 L655.52,277.82 L656.20,277.79 L657.32,278.27 L658.41,278.81 L659.03,278.88 L659.53,278.80 L659.92,278.61 L660.22,278.30 L660.44,277.85 L660.58,277.24 L660.40,276.04 L660.28,274.82 L660.52,274.18 L660.88,273.73 L661.32,273.44 L661.84,273.30 L662.41,273.34 L663.05,273.59 L663.88,274.49 L664.65,275.42 L665.20,275.74 L665.68,275.87 L666.11,275.86 L666.51,275.69 L666.90,275.37 L667.27,274.87 L667.60,273.70 L667.98,272.54 L668.47,272.06 L668.98,271.79 Z" fill="none" stroke="#1e1e1e" stroke-width="0.9" stroke-linejoin="round" />
<path d="M615.50,331.59 Q615.50,326.09 620.00,326.59 A60.5,60.5 0 0 0 660.90,351.69 Q663.90,352.24 663.90,355.54 V384.3 Q663.90,386.30 661.90,386.30 H633.64 Q631.64,386.30 631.64,384.30 A14,14 0 0 0 618.00,369.61 Q615.50,369.81 615.50,367.31 Z" fill="none" stroke="#1e1e1e" stroke-width="1.2" stroke-linejoin="round" />
<path d="M723.50,331.59 Q723.50,326.09 719.00,326.59 A60.5,60.5 0 0 1 678.10,351.69 Q675.10,352.24 675.10,355.54 V384.3 Q675.10,386.30 677.10,386.30 H705.36 Q707.36,386.30 707.36,384.30 A14,14 0 0 1 721.00,369.61 Q723.50,369.81 723.50,367.31 Z" fill="none" stroke="#1e1e1e" stroke-width="1.2" stroke-linejoin="round" />
<line x1="669.50" y1="201.00" x2="669.50" y2="406.00" stroke="#666" stroke-width="0.7" stroke-dasharray="10 2.5 1.5 2.5"/>
<line x1="596.50" y1="291.80" x2="761.50" y2="291.80" stroke="#666" stroke-width="0.7" stroke-dasharray="10 2.5 1.5 2.5"/>
<line x1="618.30" y1="201.00" x2="618.30" y2="232.00" stroke="#444" stroke-width="0.7" />
<line x1="720.80" y1="201.00" x2="720.80" y2="232.00" stroke="#444" stroke-width="0.7" />
<line x1="618.30" y1="203.35" x2="720.80" y2="203.35" stroke="#777" stroke-width="0.7" stroke-dasharray="14 3"/>
<polygon points="618.30,203.35 626.80,201.80 626.80,204.90" fill="#262626"/>
<polygon points="720.80,203.35 712.30,204.90 712.30,201.80" fill="#262626"/>
<text xml:space="preserve" style="white-space:pre" transform="translate(669.30,197.20)" x="0" y="3.94" font-family="Liberation Sans, sans-serif" font-size="11" font-weight="bold" text-anchor="middle" fill="#222" textLength="19.3" lengthAdjust="spacingAndGlyphs">71,4</text>
<line x1="734.00" y1="245.50" x2="786.00" y2="245.50" stroke="#999" stroke-width="0.7" stroke-dasharray="2 5"/>
<line x1="728.00" y1="384.00" x2="786.00" y2="384.00" stroke="#444" stroke-width="0.7" />
<line x1="760.20" y1="245.50" x2="760.20" y2="291.80" stroke="#888" stroke-width="0.7" stroke-dasharray="8 4"/>
<polygon points="760.20,245.50 761.75,254.00 758.65,254.00" fill="#262626"/>
<polygon points="760.20,291.80 758.65,283.30 761.75,283.30" fill="#262626"/>
<text xml:space="preserve" style="white-space:pre" transform="translate(752.90,269.20) rotate(-90)" x="0" y="3.94" font-family="Liberation Sans, sans-serif" font-size="11" font-weight="bold" text-anchor="middle" fill="#222" textLength="18.3" lengthAdjust="spacingAndGlyphs">32,5</text>
<line x1="782.50" y1="245.50" x2="782.50" y2="384.00" stroke="#999" stroke-width="0.7" stroke-dasharray="14 6"/>
<polygon points="782.50,245.50 784.05,254.00 780.95,254.00" fill="#262626"/>
<polygon points="782.50,384.00 780.95,375.50 784.05,375.50" fill="#262626"/>
<text xml:space="preserve" style="white-space:pre" transform="translate(775.30,315.00) rotate(-90)" x="0" y="3.94" font-family="Liberation Sans, sans-serif" font-size="11" font-weight="bold" text-anchor="middle" fill="#222" textLength="12.3" lengthAdjust="spacingAndGlyphs">96</text>
<polyline points="657.60,307.30 647.80,442.20 546.90,442.20" fill="none" stroke="#444" stroke-width="0.8" stroke-linejoin="round" />
<text xml:space="preserve" style="white-space:pre" transform="translate(595.20,435.30)" x="0" y="4.12" font-family="Liberation Sans, sans-serif" font-size="11.5" font-weight="normal" text-anchor="middle" fill="#222" stroke="#222" stroke-width="0.6" textLength="90" lengthAdjust="spacingAndGlyphs">Z15  28x25  DIN5482</text>
</svg></body></html>
